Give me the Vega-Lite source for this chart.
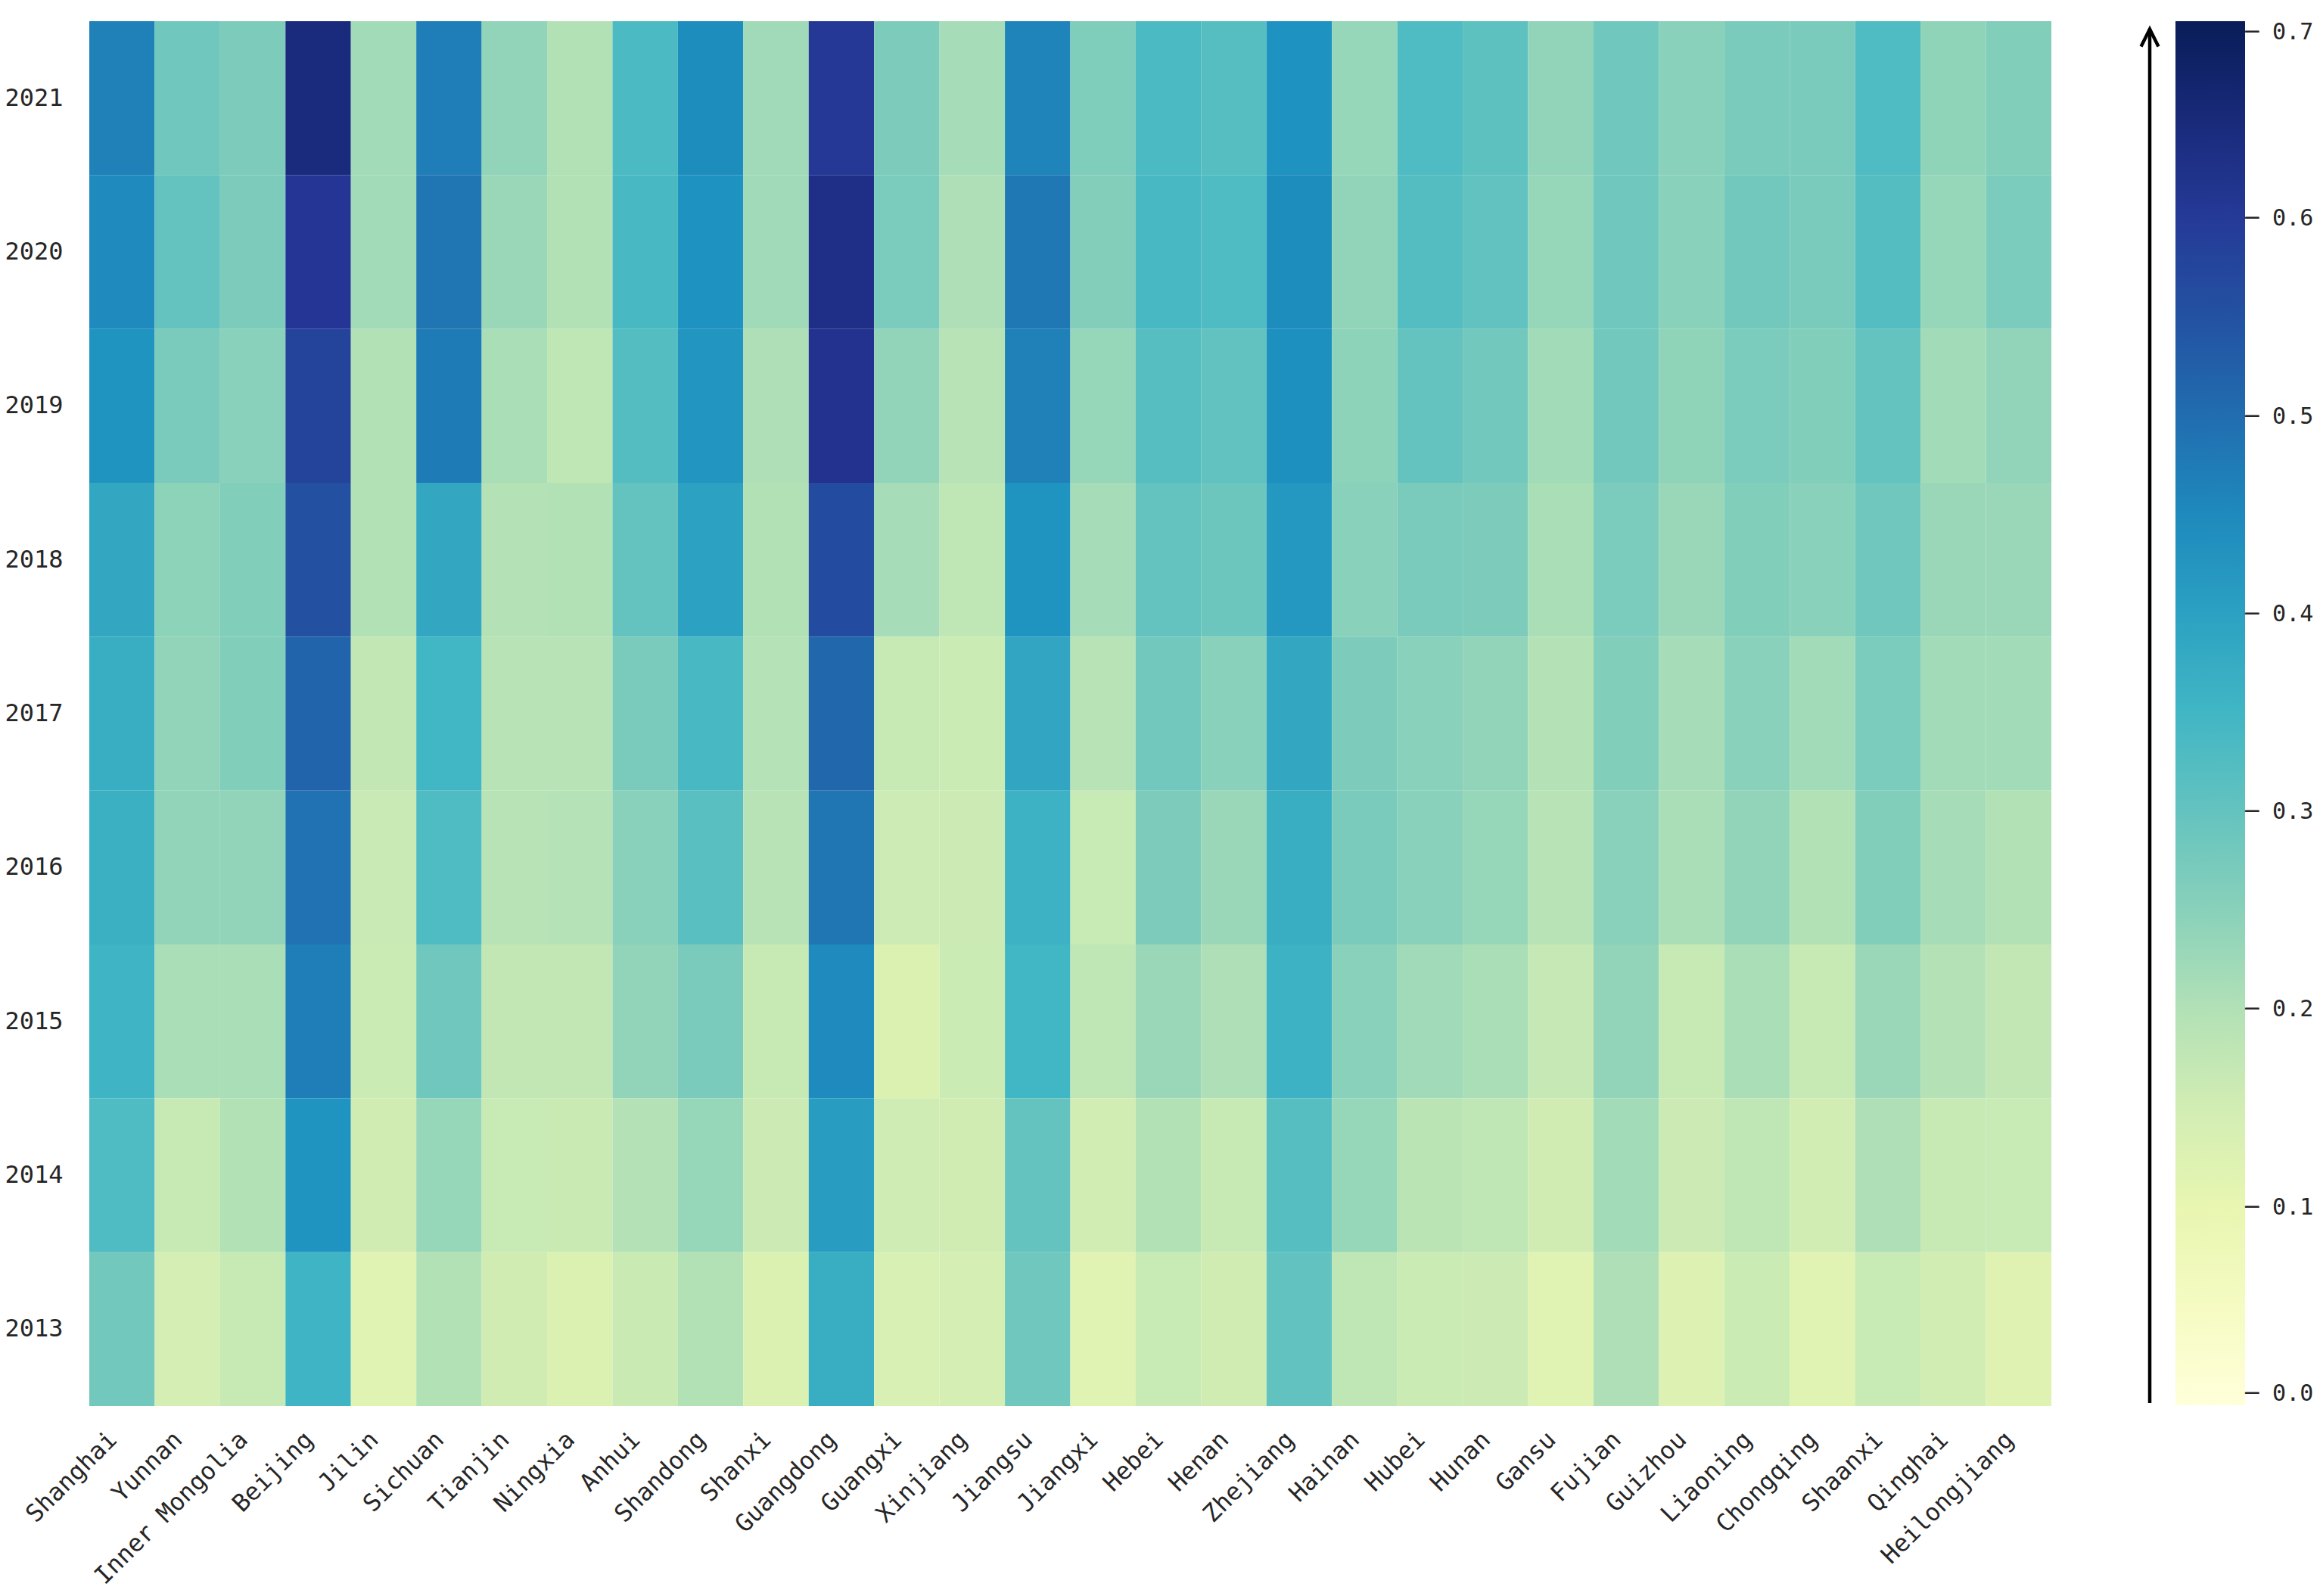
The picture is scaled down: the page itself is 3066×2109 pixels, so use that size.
{
  "$schema": "https://vega.github.io/schema/vega-lite/v6.json",
  "background": "white",
  "padding": {"left": 5, "top": 28, "right": 0, "bottom": 3},
  "config": {"view": {"stroke": null}, "concat": {"spacing": 109}, "font": "DejaVu Sans Mono"},
  "resolve": {"scale": {"y": "independent"}},
  "hconcat": [
    {
      "width": 2593,
      "height": 1830,
      "data": {"values": [
        {"province":"Shanghai","year":2021,"value":0.465},{"province":"Shanghai","year":2020,"value":0.45},{"province":"Shanghai","year":2019,"value":0.43},{"province":"Shanghai","year":2018,"value":0.385},{"province":"Shanghai","year":2017,"value":0.37},{"province":"Shanghai","year":2016,"value":0.365},{"province":"Shanghai","year":2015,"value":0.355},{"province":"Shanghai","year":2014,"value":0.33},{"province":"Shanghai","year":2013,"value":0.28},
        {"province":"Yunnan","year":2021,"value":0.285},{"province":"Yunnan","year":2020,"value":0.3},{"province":"Yunnan","year":2019,"value":0.27},{"province":"Yunnan","year":2018,"value":0.245},{"province":"Yunnan","year":2017,"value":0.24},{"province":"Yunnan","year":2016,"value":0.24},{"province":"Yunnan","year":2015,"value":0.21},{"province":"Yunnan","year":2014,"value":0.175},{"province":"Yunnan","year":2013,"value":0.145},
        {"province":"Inner Mongolia","year":2021,"value":0.265},{"province":"Inner Mongolia","year":2020,"value":0.265},{"province":"Inner Mongolia","year":2019,"value":0.25},{"province":"Inner Mongolia","year":2018,"value":0.26},{"province":"Inner Mongolia","year":2017,"value":0.26},{"province":"Inner Mongolia","year":2016,"value":0.24},{"province":"Inner Mongolia","year":2015,"value":0.21},{"province":"Inner Mongolia","year":2014,"value":0.2},{"province":"Inner Mongolia","year":2013,"value":0.175},
        {"province":"Beijing","year":2021,"value":0.645},{"province":"Beijing","year":2020,"value":0.61},{"province":"Beijing","year":2019,"value":0.58},{"province":"Beijing","year":2018,"value":0.555},{"province":"Beijing","year":2017,"value":0.515},{"province":"Beijing","year":2016,"value":0.49},{"province":"Beijing","year":2015,"value":0.47},{"province":"Beijing","year":2014,"value":0.43},{"province":"Beijing","year":2013,"value":0.355},
        {"province":"Jilin","year":2021,"value":0.22},{"province":"Jilin","year":2020,"value":0.22},{"province":"Jilin","year":2019,"value":0.2},{"province":"Jilin","year":2018,"value":0.2},{"province":"Jilin","year":2017,"value":0.18},{"province":"Jilin","year":2016,"value":0.17},{"province":"Jilin","year":2015,"value":0.165},{"province":"Jilin","year":2014,"value":0.155},{"province":"Jilin","year":2013,"value":0.115},
        {"province":"Sichuan","year":2021,"value":0.47},{"province":"Sichuan","year":2020,"value":0.485},{"province":"Sichuan","year":2019,"value":0.475},{"province":"Sichuan","year":2018,"value":0.385},{"province":"Sichuan","year":2017,"value":0.35},{"province":"Sichuan","year":2016,"value":0.33},{"province":"Sichuan","year":2015,"value":0.285},{"province":"Sichuan","year":2014,"value":0.235},{"province":"Sichuan","year":2013,"value":0.2},
        {"province":"Tianjin","year":2021,"value":0.24},{"province":"Tianjin","year":2020,"value":0.23},{"province":"Tianjin","year":2019,"value":0.21},{"province":"Tianjin","year":2018,"value":0.198},{"province":"Tianjin","year":2017,"value":0.195},{"province":"Tianjin","year":2016,"value":0.195},{"province":"Tianjin","year":2015,"value":0.18},{"province":"Tianjin","year":2014,"value":0.172},{"province":"Tianjin","year":2013,"value":0.155},
        {"province":"Ningxia","year":2021,"value":0.2},{"province":"Ningxia","year":2020,"value":0.2},{"province":"Ningxia","year":2019,"value":0.185},{"province":"Ningxia","year":2018,"value":0.2},{"province":"Ningxia","year":2017,"value":0.195},{"province":"Ningxia","year":2016,"value":0.197},{"province":"Ningxia","year":2015,"value":0.18},{"province":"Ningxia","year":2014,"value":0.168},{"province":"Ningxia","year":2013,"value":0.13},
        {"province":"Anhui","year":2021,"value":0.335},{"province":"Anhui","year":2020,"value":0.34},{"province":"Anhui","year":2019,"value":0.325},{"province":"Anhui","year":2018,"value":0.3},{"province":"Anhui","year":2017,"value":0.27},{"province":"Anhui","year":2016,"value":0.25},{"province":"Anhui","year":2015,"value":0.24},{"province":"Anhui","year":2014,"value":0.198},{"province":"Anhui","year":2013,"value":0.168},
        {"province":"Shandong","year":2021,"value":0.445},{"province":"Shandong","year":2020,"value":0.435},{"province":"Shandong","year":2019,"value":0.425},{"province":"Shandong","year":2018,"value":0.4},{"province":"Shandong","year":2017,"value":0.34},{"province":"Shandong","year":2016,"value":0.315},{"province":"Shandong","year":2015,"value":0.27},{"province":"Shandong","year":2014,"value":0.235},{"province":"Shandong","year":2013,"value":0.2},
        {"province":"Shanxi","year":2021,"value":0.222},{"province":"Shanxi","year":2020,"value":0.222},{"province":"Shanxi","year":2019,"value":0.205},{"province":"Shanxi","year":2018,"value":0.2},{"province":"Shanxi","year":2017,"value":0.197},{"province":"Shanxi","year":2016,"value":0.195},{"province":"Shanxi","year":2015,"value":0.175},{"province":"Shanxi","year":2014,"value":0.163},{"province":"Shanxi","year":2013,"value":0.13},
        {"province":"Guangdong","year":2021,"value":0.605},{"province":"Guangdong","year":2020,"value":0.63},{"province":"Guangdong","year":2019,"value":0.62},{"province":"Guangdong","year":2018,"value":0.565},{"province":"Guangdong","year":2017,"value":0.51},{"province":"Guangdong","year":2016,"value":0.485},{"province":"Guangdong","year":2015,"value":0.45},{"province":"Guangdong","year":2014,"value":0.41},{"province":"Guangdong","year":2013,"value":0.37},
        {"province":"Guangxi","year":2021,"value":0.265},{"province":"Guangxi","year":2020,"value":0.268},{"province":"Guangxi","year":2019,"value":0.24},{"province":"Guangxi","year":2018,"value":0.215},{"province":"Guangxi","year":2017,"value":0.175},{"province":"Guangxi","year":2016,"value":0.162},{"province":"Guangxi","year":2015,"value":0.128},{"province":"Guangxi","year":2014,"value":0.16},{"province":"Guangxi","year":2013,"value":0.135},
        {"province":"Xinjiang","year":2021,"value":0.215},{"province":"Xinjiang","year":2020,"value":0.205},{"province":"Xinjiang","year":2019,"value":0.195},{"province":"Xinjiang","year":2018,"value":0.185},{"province":"Xinjiang","year":2017,"value":0.165},{"province":"Xinjiang","year":2016,"value":0.163},{"province":"Xinjiang","year":2015,"value":0.165},{"province":"Xinjiang","year":2014,"value":0.155},{"province":"Xinjiang","year":2013,"value":0.145},
        {"province":"Jiangsu","year":2021,"value":0.46},{"province":"Jiangsu","year":2020,"value":0.48},{"province":"Jiangsu","year":2019,"value":0.465},{"province":"Jiangsu","year":2018,"value":0.43},{"province":"Jiangsu","year":2017,"value":0.39},{"province":"Jiangsu","year":2016,"value":0.36},{"province":"Jiangsu","year":2015,"value":0.35},{"province":"Jiangsu","year":2014,"value":0.3},{"province":"Jiangsu","year":2013,"value":0.285},
        {"province":"Jiangxi","year":2021,"value":0.262},{"province":"Jiangxi","year":2020,"value":0.258},{"province":"Jiangxi","year":2019,"value":0.235},{"province":"Jiangxi","year":2018,"value":0.215},{"province":"Jiangxi","year":2017,"value":0.195},{"province":"Jiangxi","year":2016,"value":0.172},{"province":"Jiangxi","year":2015,"value":0.185},{"province":"Jiangxi","year":2014,"value":0.15},{"province":"Jiangxi","year":2013,"value":0.117},
        {"province":"Hebei","year":2021,"value":0.335},{"province":"Hebei","year":2020,"value":0.34},{"province":"Hebei","year":2019,"value":0.32},{"province":"Hebei","year":2018,"value":0.3},{"province":"Hebei","year":2017,"value":0.28},{"province":"Hebei","year":2016,"value":0.265},{"province":"Hebei","year":2015,"value":0.23},{"province":"Hebei","year":2014,"value":0.2},{"province":"Hebei","year":2013,"value":0.172},
        {"province":"Henan","year":2021,"value":0.32},{"province":"Henan","year":2020,"value":0.33},{"province":"Henan","year":2019,"value":0.305},{"province":"Henan","year":2018,"value":0.29},{"province":"Henan","year":2017,"value":0.25},{"province":"Henan","year":2016,"value":0.23},{"province":"Henan","year":2015,"value":0.205},{"province":"Henan","year":2014,"value":0.175},{"province":"Henan","year":2013,"value":0.155},
        {"province":"Zhejiang","year":2021,"value":0.435},{"province":"Zhejiang","year":2020,"value":0.445},{"province":"Zhejiang","year":2019,"value":0.44},{"province":"Zhejiang","year":2018,"value":0.42},{"province":"Zhejiang","year":2017,"value":0.385},{"province":"Zhejiang","year":2016,"value":0.37},{"province":"Zhejiang","year":2015,"value":0.36},{"province":"Zhejiang","year":2014,"value":0.32},{"province":"Zhejiang","year":2013,"value":0.305},
        {"province":"Hainan","year":2021,"value":0.235},{"province":"Hainan","year":2020,"value":0.24},{"province":"Hainan","year":2019,"value":0.245},{"province":"Hainan","year":2018,"value":0.25},{"province":"Hainan","year":2017,"value":0.265},{"province":"Hainan","year":2016,"value":0.27},{"province":"Hainan","year":2015,"value":0.25},{"province":"Hainan","year":2014,"value":0.235},{"province":"Hainan","year":2013,"value":0.185},
        {"province":"Hubei","year":2021,"value":0.33},{"province":"Hubei","year":2020,"value":0.325},{"province":"Hubei","year":2019,"value":0.3},{"province":"Hubei","year":2018,"value":0.27},{"province":"Hubei","year":2017,"value":0.25},{"province":"Hubei","year":2016,"value":0.25},{"province":"Hubei","year":2015,"value":0.222},{"province":"Hubei","year":2014,"value":0.19},{"province":"Hubei","year":2013,"value":0.165},
        {"province":"Hunan","year":2021,"value":0.31},{"province":"Hunan","year":2020,"value":0.305},{"province":"Hunan","year":2019,"value":0.28},{"province":"Hunan","year":2018,"value":0.265},{"province":"Hunan","year":2017,"value":0.24},{"province":"Hunan","year":2016,"value":0.235},{"province":"Hunan","year":2015,"value":0.21},{"province":"Hunan","year":2014,"value":0.185},{"province":"Hunan","year":2013,"value":0.163},
        {"province":"Gansu","year":2021,"value":0.24},{"province":"Gansu","year":2020,"value":0.235},{"province":"Gansu","year":2019,"value":0.22},{"province":"Gansu","year":2018,"value":0.21},{"province":"Gansu","year":2017,"value":0.198},{"province":"Gansu","year":2016,"value":0.195},{"province":"Gansu","year":2015,"value":0.178},{"province":"Gansu","year":2014,"value":0.155},{"province":"Gansu","year":2013,"value":0.117},
        {"province":"Fujian","year":2021,"value":0.285},{"province":"Fujian","year":2020,"value":0.285},{"province":"Fujian","year":2019,"value":0.28},{"province":"Fujian","year":2018,"value":0.268},{"province":"Fujian","year":2017,"value":0.26},{"province":"Fujian","year":2016,"value":0.25},{"province":"Fujian","year":2015,"value":0.24},{"province":"Fujian","year":2014,"value":0.22},{"province":"Fujian","year":2013,"value":0.205},
        {"province":"Guizhou","year":2021,"value":0.25},{"province":"Guizhou","year":2020,"value":0.25},{"province":"Guizhou","year":2019,"value":0.243},{"province":"Guizhou","year":2018,"value":0.23},{"province":"Guizhou","year":2017,"value":0.215},{"province":"Guizhou","year":2016,"value":0.21},{"province":"Guizhou","year":2015,"value":0.175},{"province":"Guizhou","year":2014,"value":0.163},{"province":"Guizhou","year":2013,"value":0.125},
        {"province":"Liaoning","year":2021,"value":0.27},{"province":"Liaoning","year":2020,"value":0.28},{"province":"Liaoning","year":2019,"value":0.268},{"province":"Liaoning","year":2018,"value":0.26},{"province":"Liaoning","year":2017,"value":0.25},{"province":"Liaoning","year":2016,"value":0.24},{"province":"Liaoning","year":2015,"value":0.21},{"province":"Liaoning","year":2014,"value":0.185},{"province":"Liaoning","year":2013,"value":0.165},
        {"province":"Chongqing","year":2021,"value":0.27},{"province":"Chongqing","year":2020,"value":0.27},{"province":"Chongqing","year":2019,"value":0.26},{"province":"Chongqing","year":2018,"value":0.25},{"province":"Chongqing","year":2017,"value":0.22},{"province":"Chongqing","year":2016,"value":0.2},{"province":"Chongqing","year":2015,"value":0.175},{"province":"Chongqing","year":2014,"value":0.15},{"province":"Chongqing","year":2013,"value":0.117},
        {"province":"Shaanxi","year":2021,"value":0.33},{"province":"Shaanxi","year":2020,"value":0.325},{"province":"Shaanxi","year":2019,"value":0.3},{"province":"Shaanxi","year":2018,"value":0.285},{"province":"Shaanxi","year":2017,"value":0.268},{"province":"Shaanxi","year":2016,"value":0.26},{"province":"Shaanxi","year":2015,"value":0.23},{"province":"Shaanxi","year":2014,"value":0.205},{"province":"Shaanxi","year":2013,"value":0.172},
        {"province":"Qinghai","year":2021,"value":0.243},{"province":"Qinghai","year":2020,"value":0.235},{"province":"Qinghai","year":2019,"value":0.22},{"province":"Qinghai","year":2018,"value":0.23},{"province":"Qinghai","year":2017,"value":0.22},{"province":"Qinghai","year":2016,"value":0.215},{"province":"Qinghai","year":2015,"value":0.198},{"province":"Qinghai","year":2014,"value":0.175},{"province":"Qinghai","year":2013,"value":0.15},
        {"province":"Heilongjiang","year":2021,"value":0.26},{"province":"Heilongjiang","year":2020,"value":0.268},{"province":"Heilongjiang","year":2019,"value":0.24},{"province":"Heilongjiang","year":2018,"value":0.23},{"province":"Heilongjiang","year":2017,"value":0.22},{"province":"Heilongjiang","year":2016,"value":0.2},{"province":"Heilongjiang","year":2015,"value":0.18},{"province":"Heilongjiang","year":2014,"value":0.172},{"province":"Heilongjiang","year":2013,"value":0.12}
      ]},
      "mark": {"type": "rect"},
      "encoding": {
        "x": {
          "field": "province", "type": "nominal",
          "sort": ["Shanghai","Yunnan","Inner Mongolia","Beijing","Jilin","Sichuan","Tianjin","Ningxia","Anhui","Shandong","Shanxi","Guangdong","Guangxi","Xinjiang","Jiangsu","Jiangxi","Hebei","Henan","Zhejiang","Hainan","Hubei","Hunan","Gansu","Fujian","Guizhou","Liaoning","Chongqing","Shaanxi","Qinghai","Heilongjiang"],
          "axis": {"title": null, "labelAngle": -45, "labelAlign": "right", "labelBaseline": "alphabetic", "labelFontSize": 32, "labelFont": "DejaVu Sans Mono", "labelColor": "#262626", "ticks": false, "domain": false, "labelPadding": 46, "labelOffset": -5, "labelLimit": 0}
        },
        "y": {
          "field": "year", "type": "ordinal", "sort": "descending",
          "axis": {"title": null, "labelAngle": 0, "labelFontSize": 32, "labelFont": "DejaVu Sans Mono", "labelColor": "#262626", "ticks": false, "domain": false, "labelPadding": 35}
        },
        "color": {
          "field": "value", "type": "quantitative",
          "scale": {
            "domain": [0, 0.0875, 0.175, 0.2625, 0.35, 0.4375, 0.525, 0.6125, 0.7],
            "range": ["#ffffd9", "#edf8b1", "#c7e9b4", "#7fcdbb", "#41b6c4", "#1d91c0", "#225ea8", "#253494", "#081d58"],
            "interpolate": "rgb"
          },
          "legend": {
            "title": null, "direction": "vertical", "orient": "right",
            "gradientLength": 1829, "gradientThickness": 92, "gradientStrokeWidth": 0,
            "offset": 13, "labelOffset": 0,
            "values": [0, 0.1, 0.2, 0.3, 0.4, 0.5, 0.6, 0.7],
            "labelExpr": "'─ ' + format(datum.value, '.1f')",
            "labelBaseline": "middle", "labelOverlap": false,
            "labelFontSize": 30, "labelFont": "DejaVu Sans Mono", "labelColor": "#262626"
          }
        }
      }
    },
    {
      "width": 24,
      "height": 1830,
      "data": {"values": [{"start": 0.0015, "end": 0.696}]},
      "layer": [
        {
          "mark": {"type": "rule", "color": "black", "strokeWidth": 4.5},
          "encoding": {
            "y": {"field": "start", "type": "quantitative", "scale": {"domain": [0, 0.7], "nice": false, "zero": false}, "axis": null},
            "y2": {"field": "end"}
          }
        },
        {
          "mark": {"type": "point", "shape": "M -1 2 L 0 0 L 1 2", "size": 529, "filled": false, "color": "black", "strokeWidth": 4.5, "opacity": 1},
          "encoding": {
            "y": {"field": "end", "type": "quantitative", "scale": {"domain": [0, 0.7], "nice": false, "zero": false}, "axis": null}
          }
        }
      ]
    }
  ]
}
